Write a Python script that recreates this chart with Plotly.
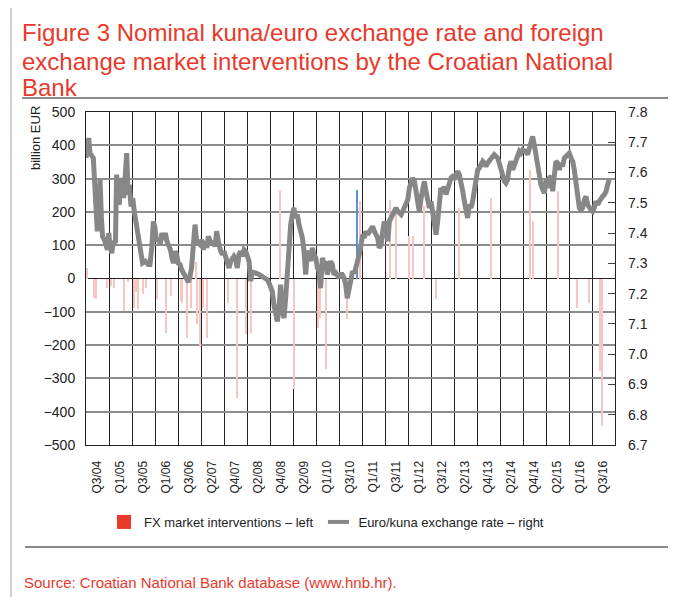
import plotly.graph_objects as go

# ---------------- data ----------------
# x positions are in units of the category-label intervals (0 = left edge, 23 = right edge)
x_labels = ["Q3/04", "Q1/05", "Q3/05", "Q1/06", "Q3/06", "Q2/07", "Q4/07", "Q2/08",
            "Q4/08", "Q2/09", "Q1/10", "Q3/10", "Q1/11", "Q3/11", "Q1/12", "Q3/12",
            "Q2/13", "Q4/13", "Q2/14", "Q4/14", "Q2/15", "Q1/16", "Q3/16"]

rate_t = [0.00, 0.07, 0.12, 0.17, 0.26, 0.32, 0.38, 0.43, 0.49, 0.55, 0.61, 0.67, 0.72, 0.80,
          0.87, 0.93, 0.99, 1.04, 1.12, 1.19, 1.28, 1.33, 1.39, 1.45, 1.51, 1.58, 1.64, 1.70,
          1.77, 1.83, 1.88, 1.96, 2.03, 2.10, 2.17, 2.25, 2.32, 2.39, 2.46, 2.58, 2.70, 2.78,
          2.86, 2.93, 2.99, 3.06, 3.14, 3.22, 3.30, 3.39, 3.45, 3.52, 3.59, 3.67, 3.74, 3.80,
          3.87, 3.94, 4.01, 4.09, 4.16, 4.23, 4.30, 4.38, 4.45, 4.52, 4.59, 4.67, 4.74, 4.81,
          4.88, 4.96, 5.03, 5.10, 5.17, 5.25, 5.32, 5.39, 5.46, 5.54, 5.61, 5.68, 5.71, 5.78,
          5.86, 5.93, 6.00, 6.07, 6.14, 6.22, 6.29, 6.36, 6.43, 6.51, 6.58, 6.65, 6.72, 6.80,
          6.87, 6.94, 7.01, 7.09, 7.16, 7.23, 7.30, 7.38, 7.52, 7.67, 7.81, 7.88, 7.96, 8.03,
          8.10, 8.17, 8.25, 8.32, 8.39, 8.46, 8.54, 8.61, 8.68, 8.75, 8.83, 8.90, 8.97, 9.04,
          9.12, 9.19, 9.26, 9.33, 9.41, 9.48, 9.55, 9.62, 9.70, 9.77, 9.84, 9.91, 9.99, 10.06,
          10.13, 10.20, 10.28, 10.35, 10.42, 10.49, 10.57, 10.64, 10.71, 10.78, 10.86, 10.93,
          11.00, 11.07, 11.14, 11.22, 11.29, 11.36, 11.45, 11.52, 11.59, 11.67, 11.74, 11.81,
          11.88, 11.96, 12.03, 12.10, 12.17, 12.25, 12.32, 12.39, 12.46, 12.54, 12.61, 12.68,
          12.75, 12.83, 12.90, 12.97, 13.04, 13.12, 13.19, 13.26, 13.33, 13.41, 13.48, 13.55,
          13.62, 13.70, 13.77, 13.84, 13.91, 13.99, 14.06, 14.13, 14.20, 14.28, 14.35, 14.42,
          14.49, 14.57, 14.64, 14.71, 14.78, 14.86, 14.93, 15.00, 15.07, 15.14, 15.22, 15.29,
          15.36, 15.43, 15.51, 15.58, 15.65, 15.72, 15.80, 15.87, 15.94, 16.01, 16.09, 16.16,
          16.23, 16.30, 16.38, 16.45, 16.52, 16.59, 16.67, 16.74, 16.81, 16.88, 16.96, 17.03,
          17.10, 17.17, 17.25, 17.32, 17.39, 17.46, 17.54, 17.61, 17.68, 17.75, 17.83, 17.90,
          17.97, 18.04, 18.12, 18.19, 18.26, 18.33, 18.41, 18.48, 18.55, 18.62, 18.70, 18.77,
          18.84, 18.91, 18.99, 19.06, 19.13, 19.20, 19.28, 19.35, 19.42, 19.49, 19.57, 19.64,
          19.71, 19.78, 19.86, 19.93, 20.00, 20.07, 20.14, 20.22, 20.29, 20.36, 20.43, 20.51,
          20.58, 20.65, 20.72, 20.80, 20.87, 20.94, 21.01, 21.09, 21.16, 21.23, 21.30, 21.38,
          21.45, 21.52, 21.59, 21.67, 21.74, 21.81, 21.88, 21.96, 22.03, 22.10, 22.17, 22.25,
          22.32, 22.39, 22.46, 22.54, 22.61, 22.68, 22.75]

rate_v = [7.648, 7.708, 7.714, 7.664, 7.653, 7.648, 7.560, 7.461, 7.406, 7.450, 7.576, 7.450,
          7.389, 7.378, 7.362, 7.345, 7.400, 7.356, 7.334, 7.373, 7.367, 7.593, 7.516, 7.494,
          7.582, 7.560, 7.516, 7.593, 7.664, 7.527, 7.560, 7.488, 7.516, 7.472, 7.439, 7.406,
          7.362, 7.318, 7.301, 7.307, 7.296, 7.296, 7.351, 7.439, 7.422, 7.373, 7.384, 7.362,
          7.400, 7.378, 7.400, 7.373, 7.362, 7.345, 7.318, 7.301, 7.340, 7.329, 7.301, 7.296,
          7.279, 7.268, 7.257, 7.246, 7.238, 7.257, 7.285, 7.362, 7.428, 7.373, 7.367, 7.362,
          7.378, 7.345, 7.373, 7.351, 7.389, 7.373, 7.362, 7.373, 7.356, 7.406, 7.384, 7.362,
          7.340, 7.329, 7.340, 7.318, 7.307, 7.285, 7.307, 7.318, 7.323, 7.312, 7.285, 7.329,
          7.340, 7.323, 7.345, 7.340, 7.329, 7.307, 7.241, 7.274, 7.268, 7.268, 7.263, 7.257,
          7.252, 7.246, 7.235, 7.224, 7.207, 7.163, 7.119, 7.108, 7.152, 7.230, 7.141, 7.119,
          7.185, 7.285, 7.351, 7.428, 7.461, 7.483, 7.450, 7.461, 7.428, 7.406, 7.384, 7.340,
          7.263, 7.329, 7.340, 7.307, 7.351, 7.329, 7.318, 7.285, 7.274, 7.218, 7.318, 7.296,
          7.307, 7.263, 7.285, 7.307, 7.296, 7.263, 7.268, 7.257, 7.252, 7.263, 7.263, 7.252,
          7.230, 7.185, 7.230, 7.263, 7.274, 7.268, 7.290, 7.296, 7.329, 7.362, 7.395, 7.384,
          7.406, 7.395, 7.406, 7.417, 7.422, 7.406, 7.395, 7.384, 7.351, 7.362, 7.406, 7.439,
          7.406, 7.373, 7.439, 7.450, 7.461, 7.472, 7.483, 7.472, 7.466, 7.461, 7.472, 7.483,
          7.494, 7.510, 7.549, 7.571, 7.582, 7.571, 7.538, 7.505, 7.472, 7.516, 7.549, 7.571,
          7.538, 7.494, 7.483, 7.505, 7.472, 7.450, 7.395, 7.439, 7.527, 7.549, 7.538, 7.554,
          7.527, 7.549, 7.565, 7.582, 7.587, 7.582, 7.593, 7.604, 7.593, 7.571, 7.538, 7.505,
          7.461, 7.450, 7.494, 7.483, 7.505, 7.549, 7.593, 7.609, 7.615, 7.626, 7.637, 7.631,
          7.620, 7.631, 7.642, 7.648, 7.653, 7.659, 7.653, 7.648, 7.631, 7.609, 7.593, 7.571,
          7.565, 7.576, 7.620, 7.637, 7.609, 7.626, 7.637, 7.653, 7.670, 7.664, 7.675, 7.670,
          7.670, 7.659, 7.681, 7.703, 7.719, 7.692, 7.648, 7.609, 7.582, 7.560, 7.543, 7.532,
          7.576, 7.549, 7.582, 7.587, 7.538, 7.576, 7.637, 7.631, 7.609, 7.631, 7.620, 7.648,
          7.653, 7.659, 7.664, 7.648, 7.637, 7.609, 7.571, 7.516, 7.483, 7.477, 7.483, 7.510,
          7.521, 7.494, 7.483, 7.477, 7.472, 7.483, 7.505, 7.494, 7.505, 7.516, 7.521, 7.527,
          7.538, 7.560, 7.576]

# FX market interventions (values on the left axis, "billion EUR")
fx_t = [0.06, 0.36, 0.42, 0.90, 1.09, 1.23, 1.64, 1.84, 2.09, 2.16, 2.28, 2.49, 2.62, 3.10,
        3.46, 3.70, 4.12, 4.19, 4.38, 4.55, 4.78, 4.81, 4.96, 5.10, 5.26, 6.19, 6.58, 6.97,
        7.17, 8.43, 9.04, 10.10, 10.16, 10.45, 11.36, 11.93, 13.23, 13.49, 14.03, 14.20,
        14.71, 15.22, 16.20, 17.61, 19.29, 19.42, 20.52, 21.36, 21.86, 22.35, 22.42]
fx_v = [32, -58, -63, -28, -23, -30, -98, -10, -88, -40, -93, -48, -28, -63,
        -163, -53, -68, -73, -178, -90, 50, -138, -206, -90, -178, -73, -358, -168,
        -163, 267, -333, -150, -120, -273, -123, 232, 237, 202, 127, 127,
        217, -63, 212, 242, 327, 172, 262, -88, -73, -278, -443]
# one intervention drawn in blue in the original
fx_blue_t = [11.78]
fx_blue_v = [267]

left_ticks = [-500, -400, -300, -200, -100, 0, 100, 200, 300, 400, 500]
right_ticks = [6.7, 6.8, 6.9, 7.0, 7.1, 7.2, 7.3, 7.4, 7.5, 7.6, 7.7, 7.8]

# ---------------- styling ----------------
RED = "#e8392b"
GREY = "#878787"
REG = "Liberation Sans, Arial, sans-serif"

OFF = 8                      # page offset of the figure div (body margin)
W, H = 668, 589
L, T = 78, 104
R, B = 61, 152
PW, PH = W - L - R, H - T - B


def px(page_x):
    return (page_x - OFF - L) / PW


def py(page_y):
    return (H - B - (page_y - OFF)) / PH


fig = go.Figure()

fig.add_trace(go.Bar(x=fx_t, y=fx_v, width=0.04,
                     marker=dict(color="#f5c6c2", line=dict(width=0)),
                     showlegend=False, yaxis="y"))
fig.add_trace(go.Bar(x=fx_blue_t, y=fx_blue_v, width=0.04,
                     marker=dict(color="#5b93cf", line=dict(width=0)),
                     showlegend=False, yaxis="y"))
fig.add_trace(go.Scatter(x=rate_t, y=rate_v, mode="lines", yaxis="y2",
                         line=dict(color=GREY, width=5), showlegend=False,
                         name="Euro/kuna exchange rate – right"))
# legend entries
fig.add_trace(go.Scatter(x=[None], y=[None], mode="markers", yaxis="y",
                         marker=dict(symbol="square", size=14, color=RED, line=dict(width=0)),
                         name="FX market interventions – left"))
fig.add_trace(go.Scatter(x=[None], y=[None], mode="markers", yaxis="y2",
                         marker=dict(symbol="line-ew-open", size=15, color=GREY,
                                     line=dict(color=GREY, width=4)),
                         name="Euro/kuna exchange rate – right"))

fig.update_layout(
    width=W, height=H, autosize=False,
    margin=dict(l=L, r=R, t=T, b=B, autoexpand=False),
    paper_bgcolor="white", plot_bgcolor="white",
    barmode="overlay", bargap=0,
    font=dict(family=REG, size=14, color="#222"),
    xaxis=dict(range=[0, 23], tickmode="array", tickvals=[i + 0.5 for i in range(23)],
               ticktext=x_labels, tickangle=-90, ticks="", showgrid=False,
               minor=dict(tick0=0, dtick=1, showgrid=True, gridcolor="#222", gridwidth=1, ticks=""),
               showline=True, linecolor="#222", linewidth=1, mirror=True, zeroline=False,
               tickfont=dict(family=REG, size=12, color="#222"), ticklabelstandoff=10),
    yaxis=dict(range=[-500, 500], tickmode="array", tickvals=left_ticks,
               showgrid=True, gridcolor="#8c8c8c", gridwidth=1.5,
               zeroline=True, zerolinecolor="#222", zerolinewidth=1,
               showline=True, linecolor="#222", linewidth=1, mirror=True, ticks="",
               tickfont=dict(family=REG, size=14, color="#222"), ticklabelstandoff=7),
    yaxis2=dict(range=[6.7, 7.8], overlaying="y", side="right", tickmode="array",
                tickvals=right_ticks, ticktext=[f"{v:.1f}" for v in right_ticks],
                ticks="inside", ticklen=7, tickcolor="#444", showgrid=False, zeroline=False,
                showline=False, tickfont=dict(family=REG, size=14, color="#222"),
                ticklabelstandoff=12),
    legend=dict(orientation="h", x=px(104), xanchor="left", y=py(522), yanchor="middle",
                font=dict(family=REG, size=13, color="#222"), bgcolor="rgba(0,0,0,0)",
                traceorder="normal", itemsizing="trace"),
    showlegend=True,
)

shapes = [
    dict(type="line", xref="paper", yref="paper", x0=px(22), x1=px(676), y0=py(98), y1=py(98),
         line=dict(color="#8a8a8a", width=2)),
    dict(type="line", xref="paper", yref="paper", x0=px(25), x1=px(676), y0=py(547), y1=py(547),
         line=dict(color="#8a8a8a", width=2)),
    dict(type="line", xref="paper", yref="paper", x0=px(11), x1=px(11), y0=py(8), y1=py(597),
         line=dict(color="#a0a0a0", width=1)),
]
fig.update_layout(shapes=shapes)

title_lines = ["Figure 3 Nominal kuna/euro exchange rate and foreign",
               "exchange market interventions by the Croatian National",
               "Bank"]
annotations = []
for txt, yc in zip(title_lines, [33, 61, 87]):
    annotations.append(dict(text=txt, xref="paper", yref="paper", x=px(20), y=py(yc),
                            xanchor="left", yanchor="middle", showarrow=False,
                            font=dict(family=REG, size=24, color=RED)))
annotations.append(dict(text="billion EUR", xref="paper", yref="paper", x=px(35), y=py(138),
                        xanchor="center", yanchor="middle", textangle=-90, showarrow=False,
                        font=dict(family=REG, size=13, color="#222")))
annotations.append(dict(text="Source: Croatian National Bank database (www.hnb.hr).",
                        xref="paper", yref="paper", x=px(22), y=py(582), xanchor="left",
                        yanchor="middle", showarrow=False,
                        font=dict(family=REG, size=15, color=RED)))
fig.update_layout(annotations=annotations)

fig.write_html("out.html")
